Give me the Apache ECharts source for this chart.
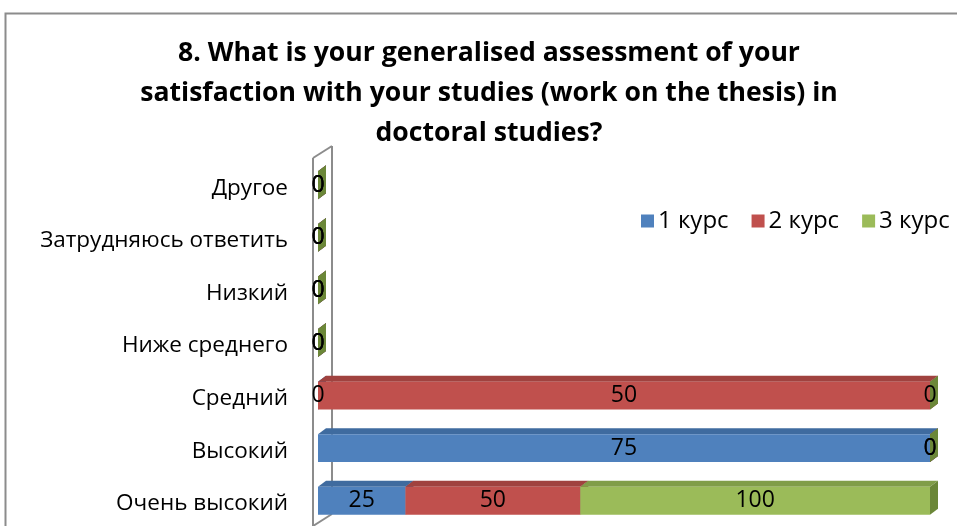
<!DOCTYPE html>
<html><head><meta charset="utf-8">
<script src="https://cdn.jsdelivr.net/npm/echarts@6/dist/echarts.min.js"></script>
<style>html,body{margin:0;padding:0;background:#fff}#c{width:957px;height:526px}</style>
</head><body><div id="c"></div>
<script>
const categories = ['Очень высокий','Высокий','Средний','Ниже среднего','Низкий','Затрудняюсь ответить','Другое'];
const seriesNames = ['1 курс','2 курс','3 курс'];
const kurs1 = [25, 75, 0, 0, 0, 0, 0];
const kurs2 = [50, 0, 50, 0, 0, 0, 0];
const kurs3 = [100, 0, 0, 0, 0, 0, 0];
const titleText = '8. What is your generalised assessment of your\nsatisfaction with your studies (work on the thesis) in\ndoctoral studies?';

const FONT = 'Open Sans';
const raw = [kurs1, kurs2, kurs3];
const front = ['#4F81BD','#C0504D','#9BBB59'];
const topC = ['#3F6B9F','#A0423F','#809D48'];
const sideC = ['#35598A','#8A3936','#6B8738'];

function buildData(si){
  return categories.map((c,i)=>{
    const tot = raw[0][i]+raw[1][i]+raw[2][i];
    let start=0;
    for(let k=0;k<si;k++) start += tot? raw[k][i]/tot*100 : 0;
    const end = start + (tot? raw[si][i]/tot*100 : 0);
    return [i, start, end, raw[si][i]];
  });
}
const DX=8, DY=6;
function makeRender(si){
  return function(params, api){
    const ci = api.value(0);
    const p0 = api.coord([api.value(1), ci]);
    const p1 = api.coord([api.value(2), ci]);
    const band = api.size([0,1])[1];
    const h = band*0.53;
    const cy = p0[1]+1;
    const x0=p0[0], x1=p1[0], yt=cy-h/2, yb=cy+h/2;
    return {type:'group', children:[
      {type:'polygon', shape:{points:[[x0,yt],[x0+DX,yt-DY],[x1+DX,yt-DY],[x1,yt]]}, style:{fill:topC[si]}},
      {type:'polygon', shape:{points:[[x1,yt],[x1+DX,yt-DY],[x1+DX,yb-DY],[x1,yb]]}, style:{fill:sideC[si]}},
      {type:'rect', shape:{x:x0,y:yt,width:x1-x0,height:h}, style:{fill:front[si]}}
    ]};
  };
}
function labelRender(params, api){
  const ci = api.value(0);
  const p0 = api.coord([api.value(1), ci]);
  const p1 = api.coord([api.value(2), ci]);
  return {type:'text', style:{text:String(api.value(3)), x:(p0[0]+p1[0])/2, y:p0[1]+1, align:'center', verticalAlign:'middle', font:'23px "'+FONT+'"', fill:'#000'}};
}
function wallRender(params, api){
  const band = api.size([0,1])[1];
  const x = api.coord([0,0])[0];
  const yBot = api.coord([0,0])[1] + band/2;
  const yTop = api.coord([0,categories.length-1])[1] - band/2;
  const fx = x-5, bx = x+14, d = 12;
  const st = {stroke:'#8c8c8c', lineWidth:2, fill:null};
  return {type:'group', children:[
    {type:'line', shape:{x1:fx,y1:yTop,x2:fx,y2:yBot+20}, style:st},
    {type:'line', shape:{x1:bx,y1:yTop-d,x2:bx,y2:yBot-d}, style:st},
    {type:'line', shape:{x1:fx,y1:yTop,x2:bx,y2:yTop-d}, style:st},
    {type:'line', shape:{x1:fx,y1:yBot,x2:bx,y2:yBot-d}, style:st}
  ]};
}

const chart = echarts.init(document.getElementById('c'), null, {renderer:'canvas'});
const series = [{type:'custom', name:'wall', silent:true, clip:false, renderItem:wallRender, data:[[0]], encode:{x:0,y:0}, z:1}];
const allLabels = [];
seriesNames.forEach((n,si)=>{
  const d = buildData(si);
  d.forEach(r=>allLabels.push(r));
  series.push({type:'custom', name:n, clip:false, renderItem:makeRender(si), data:d, encode:{x:[1,2], y:0}, itemStyle:{color:front[si]}, z:2+si});
});
series.push({type:'custom', name:'labels', silent:true, clip:false, renderItem:labelRender, data:allLabels, encode:{x:[1,2], y:0}, z:10});

chart.setOption({
  animation:false,
  color: front,
  legend:{data:seriesNames, top:204, left:636, icon:'rect', itemWidth:13, itemHeight:13, itemGap:23, itemStyle:{borderWidth:0}, textStyle:{fontFamily:FONT, fontSize:24, color:'#000', padding:[0,0,0,-1]}},
  graphic:[
    {type:'rect', shape:{x:5.5,y:13.5,width:1000,height:600}, style:{fill:null, stroke:'#8c8c8c', lineWidth:2}, z:-1},
    {type:'text', x:489, y:33, style:{text:titleText, font:'bold 26.6px "'+FONT+'"', fill:'#000', align:'center', verticalAlign:'top', lineHeight:40}, z:5}
  ],
  grid:{left:318, right:27, top:158, bottom:0},
  xAxis:{type:'value', min:0, max:100, show:false},
  yAxis:{type:'category', data:categories, axisLine:{show:false}, axisTick:{show:false}, splitLine:{show:false},
    axisLabel:{margin:30, formatter:'{a|{value}}', rich:{a:{fontFamily:FONT, fontSize:22.5, color:'#000', padding:[8,0,0,0]}}}},
  series
});
</script></body></html>
